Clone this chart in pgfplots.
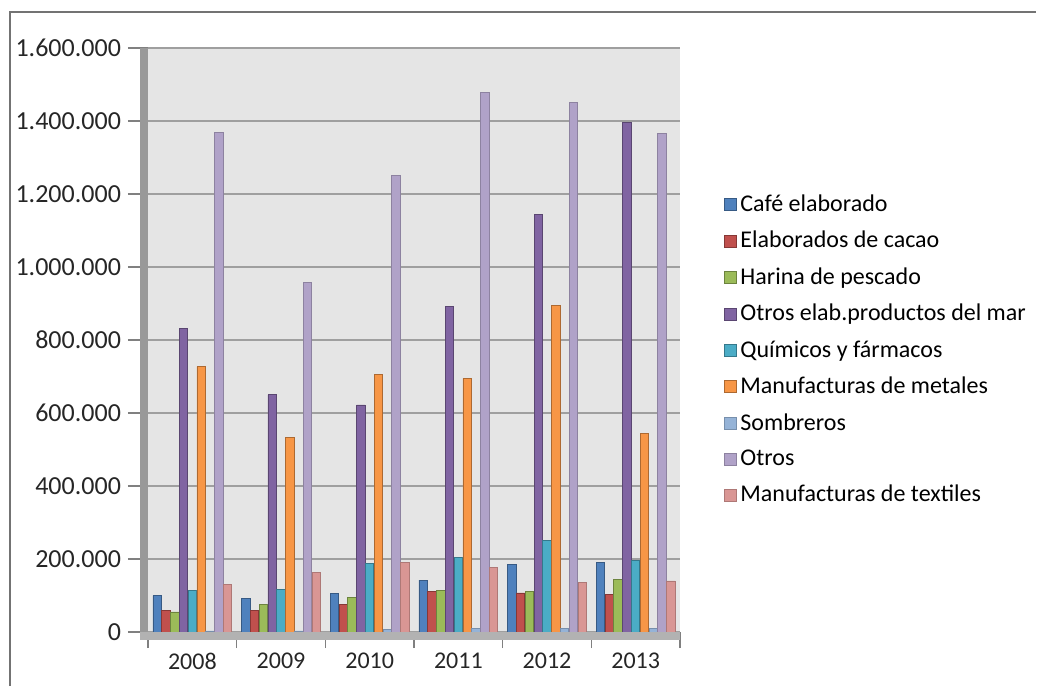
\documentclass[border=0pt]{standalone}
\usepackage{pgfplots}
\usepackage{pgfplotstable}
\pgfplotsset{compat=1.18}
\usepackage{fontspec}
\setmainfont{Carlito}

\definecolor{cafe}{HTML}{4F81BD}
\definecolor{cacao}{HTML}{C0504D}
\definecolor{harina}{HTML}{9BBB59}
\definecolor{mar}{HTML}{8064A2}
\definecolor{quim}{HTML}{4BACC6}
\definecolor{metal}{HTML}{F79646}
\definecolor{somb}{HTML}{95B3D7}
\definecolor{otros}{HTML}{B0A2C8}
\definecolor{textil}{HTML}{D99694}

\pgfplotstableread{
x cafe  cacao harina mar     quim   metal  somb  otros   textil
0 100000 60000 55000 832000  115000 727000 3000  1368000 130000
1  93000 60000 75000 650000  117000 532000 3000  958000  162000
2 105000 75000 95000 622000  187000 705000 8000  1250000 190000
3 142000 110000 115000 893000 205000 695000 10000 1478000 178000
4 185000 107000 110000 1145000 252000 895000 10000 1452000 137000
5 190000 103000 143000 1397000 195000 545000 10000 1365000 140000
}\data

\begin{document}
\begin{tikzpicture}
\begin{axis}[
  name=ax,
  scale only axis,
  width=266pt, height=292pt,
  ybar=0.2pt, bar width=4.2pt,
  xmin=-0.5, xmax=5.5,
  ymin=0, ymax=1600000,
  ytick={0,200000,...,1600000},
  xtick={0,...,5},
  xticklabels={2008,2009,2010,2011,2012,2013},
  minor xtick={-0.5,0.5,...,5.5},
  major x tick style={draw=none},
  minor x tick style={gray, line width=0.8pt},
  minor tick length=8pt,
  major tick length=10pt,
  y tick style={gray, line width=0.8pt},
  tick align=outside,
  tick pos=left,
  ymajorgrids,
  major grid style={gray!75, line width=0.8pt},
  axis line style={draw=none},
  axis background/.style={fill=black!10},
  scaled y ticks=false,
  /pgf/number format/.cd, fixed, 1000 sep={.}, assume math mode=true,
  /pgfplots/.cd,
  tick label style={text=black!85},
  yticklabel style={font=\fontsize{13}{15}\selectfont, xshift=0pt},
  xticklabel style={font=\fontsize{12}{14}\selectfont, yshift=3pt},
  legend style={at={(1.07,0.763)}, anchor=north west, draw=none, fill=none,
    font=\fontsize{12}{14}\selectfont, row sep=4.4pt},
  legend cell align=left,
  legend image code/.code={\fill[#1] (0pt,-3pt) rectangle (6pt,3pt); \draw[#1, fill=none] (0pt,-3pt) rectangle (6pt,3pt);},
]
\addplot[fill=cafe, draw=cafe!70!black] table[x=x,y=cafe]{\data};
\addplot[fill=cacao, draw=cacao!70!black] table[x=x,y=cacao]{\data};
\addplot[fill=harina, draw=harina!70!black] table[x=x,y=harina]{\data};
\addplot[fill=mar, draw=mar!70!black] table[x=x,y=mar]{\data};
\addplot[fill=quim, draw=quim!70!black] table[x=x,y=quim]{\data};
\addplot[fill=metal, draw=metal!70!black] table[x=x,y=metal]{\data};
\addplot[fill=somb, draw=somb!80!black] table[x=x,y=somb]{\data};
\addplot[fill=otros, draw=otros!80!black] table[x=x,y=otros]{\data};
\addplot[fill=textil, draw=textil!80!black] table[x=x,y=textil]{\data};
\legend{Café elaborado, Elaborados de cacao, Harina de pescado, Otros elab.productos del mar, Químicos y fármacos, Manufacturas de metales, Sombreros, Otros, Manufacturas de textiles}
\end{axis}
% 3D wall and floor of the plot area
\fill[black!40] ([xshift=-4pt]ax.south west) rectangle (ax.north west);
\fill[black!30] ([xshift=-4pt,yshift=-4pt]ax.south west) rectangle (ax.south east);
% outer frame (left and top edges) and page size
\draw[black!55, line width=0.8pt] ([shift={(-69pt,-27pt)}]ax.south west) -- ++(0,337pt) -- ++(513pt,0);
\path[use as bounding box] ([shift={(-74pt,-27pt)}]ax.south west) rectangle ++(518.5pt,343pt);
\end{tikzpicture}
\end{document}
